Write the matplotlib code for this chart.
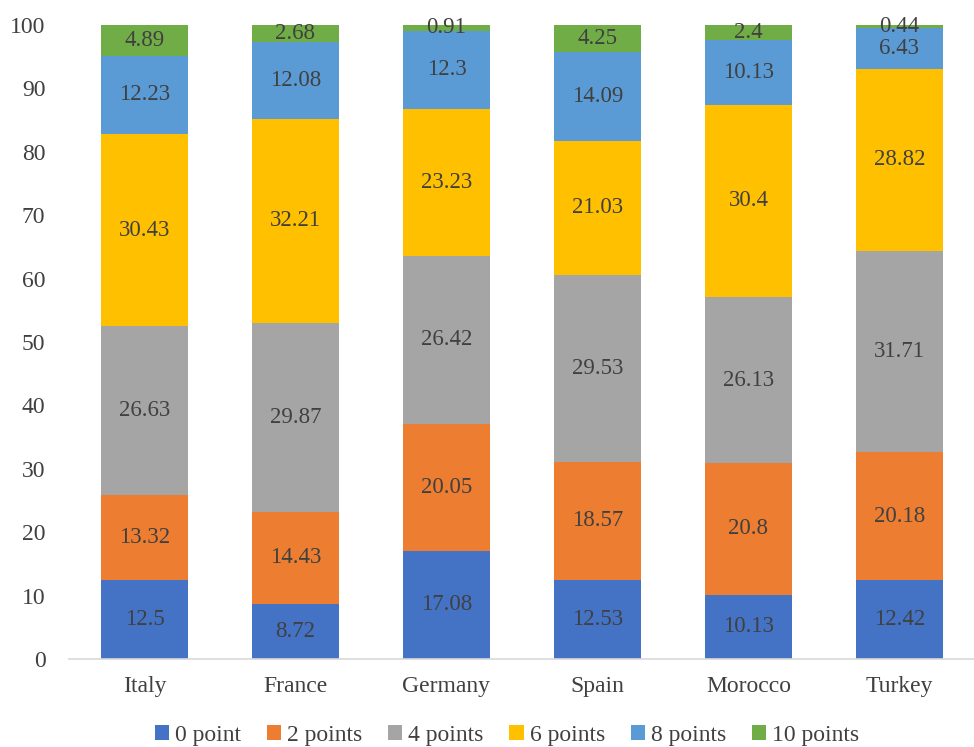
import matplotlib
matplotlib.use("Agg")
import matplotlib.pyplot as plt
import numpy as np

plt.rcParams['font.family'] = ['Liberation Serif', 'DejaVu Serif']

countries = ["Italy", "France", "Germany", "Spain", "Morocco", "Turkey"]
series_names = ["0 point", "2 points", "4 points", "6 points", "8 points", "10 points"]
p0 = [12.5, 8.72, 17.08, 12.53, 10.13, 12.42]
p2 = [13.32, 14.43, 20.05, 18.57, 20.8, 20.18]
p4 = [26.63, 29.87, 26.42, 29.53, 26.13, 31.71]
p6 = [30.43, 32.21, 23.23, 21.03, 30.4, 28.82]
p8 = [12.23, 12.08, 12.3, 14.09, 10.13, 6.43]
p10 = [4.89, 2.68, 0.91, 4.25, 2.4, 0.44]
series = [p0, p2, p4, p6, p8, p10]
colors = ["#4472C4", "#ED7D31", "#A5A5A5", "#FFC000", "#5B9BD5", "#70AD47"]

fig = plt.figure(figsize=(9.74, 7.47), dpi=100)
ax = fig.add_axes([69/974, 1-659/747, (975-69)/974, (659-25)/747])

x = np.arange(len(countries))
bottom = np.zeros(len(countries))
text_color = "#404040"
for vals, name, c in zip(series, series_names, colors):
    vals = np.array(vals)
    ax.bar(x, vals, width=0.58, bottom=bottom, color=c, label=name)
    for xi, b, v in zip(x, bottom, vals):
        ax.text(xi, b + v/2, f"{v:g}", ha='center', va='center', fontsize=16.5, color=text_color)
    bottom += vals

ax.set_xlim(-0.5, 5.5)
ax.set_ylim(0, 100)
ax.set_yticks(np.arange(0, 101, 10))
ax.set_xticks(x)
ax.set_xticklabels(countries)
for s in ['top', 'right', 'left']:
    ax.spines[s].set_visible(False)
ax.spines['bottom'].set_color('#D9D9D9')
ax.spines['bottom'].set_linewidth(1.2)
ax.tick_params(axis='both', length=0, labelsize=17, colors=text_color)
ax.tick_params(axis='y', pad=17)
ax.tick_params(axis='x', pad=12)

leg = fig.legend(loc='center', bbox_to_anchor=(507/974, 1-735/747), ncol=6, frameon=False,
                 fontsize=17, handlelength=0.6, handleheight=0.6, handletextpad=0.25,
                 columnspacing=1.1)
for t in leg.get_texts():
    t.set_color(text_color)

fig.savefig("out.png", dpi=100)
